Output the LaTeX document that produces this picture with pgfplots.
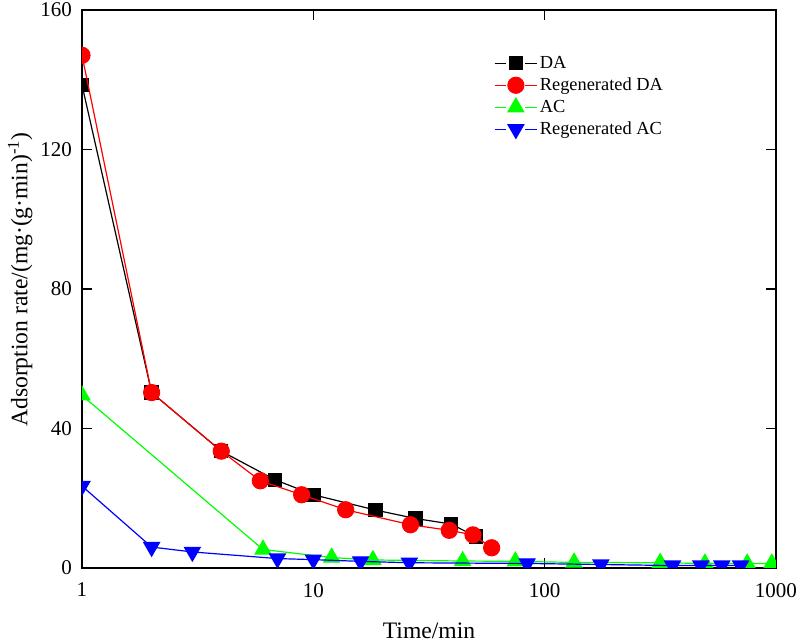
\documentclass[border=0pt]{standalone}
\usepackage{fontspec}
\setmainfont{Liberation Serif}
\usepackage{pgfplots}
\pgfplotsset{compat=1.18}
\begin{document}
\begin{tikzpicture}
\useasboundingbox (-41pt,-37pt) rectangle (359pt,284pt);
\begin{axis}[
  scale only axis, width=347pt, height=279pt,
  xmode=log, xmin=1, xmax=1000, ymin=0, ymax=160,
  xtick={1,10,100,1000}, xticklabels={1,10,100,1000},
  ytick={0,40,80,120,160},
  xminorticks=false,
  clip mode=individual,
  clip marker paths=true,
  tick align=inside, major tick length=5pt,
  axis line style={line width=1pt},
  major tick style={line width=0.8pt, black},
  tick label style={font=\fontsize{10.5}{12}\selectfont},
  /pgf/number format/assume math mode=true,
  xticklabel style={yshift=-4pt},
  yticklabel style={xshift=-1.5pt},
  xlabel={Time/min},
  ylabel={Adsorption rate/(mg·(g·min)\textsuperscript{-1})},
  label style={font=\fontsize{11.8}{13}\selectfont},
  xlabel style={at={(axis description cs:0.5,-0.113)}, anchor=center},
  ylabel style={at={(axis description cs:-0.089,0.517)}, anchor=center},
  legend cell align=left,
  legend style={at={(axis description cs:0.593,0.925)}, anchor=north west, draw=none, fill=none,
    font=\fontsize{9.2}{11}\selectfont, inner sep=0pt,
    nodes={inner sep=1pt, text height=7pt, text depth=2pt}},
  legend image code/.code={
    \draw[#1,mark=none] (0cm,0cm)--(0.21cm,0cm);
    \draw[#1,mark=none] (0.54cm,0cm)--(0.75cm,0cm);
    \draw[#1] plot coordinates {(0.375cm,0cm)};
  },
]
\addplot[black, line width=0.6pt, mark=square*, mark size=3.3pt, mark options={solid}] coordinates {
(1,138.5) (2,50.3) (4,33.5) (6.83,25.3) (10,21) (18.6,16.6) (27.6,14.2) (39.4,12.6) (50.5,9)};
\addlegendentry{DA}
\addplot[red, line width=0.6pt, mark=*, mark size=4pt] coordinates {
(1,147) (2,50.3) (4,33.5) (5.9,25) (8.9,21) (13.8,16.7) (26.3,12.4) (38.7,10.8) (49,9.5) (59,5.8)};
\addlegendentry{Regenerated DA}
\addplot[green, line width=0.6pt, mark=triangle*, mark size=4.5pt] coordinates {
(1,49.5) (6.06,5.3) (12,3.0) (18.1,2.3) (44.2,2.0) (74.7,1.9) (134,1.6) (316,1.5) (493,1.3) (751,1.3) (959,1.3)};
\addlegendentry{AC}
\addplot[blue, line width=0.6pt, mark=triangle*, mark size=4.5pt, mark options={rotate=180}] coordinates {
(1,23.5) (2,6) (3,4.6) (7,2.7) (10,2.4) (16,1.9) (26,1.5) (84,1.3) (175,1.0) (357,0.7) (473,0.7) (583,0.7) (703,0.7)};
\addlegendentry{Regenerated AC}
\end{axis}
\end{tikzpicture}
\end{document}
